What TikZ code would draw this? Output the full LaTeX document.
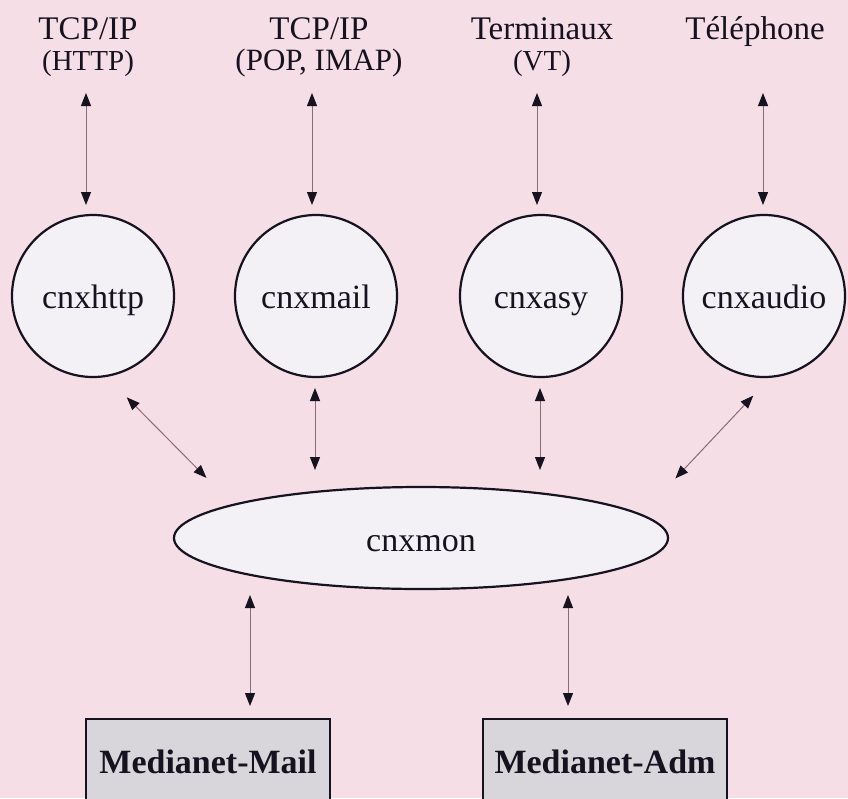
\documentclass[tikz,border=0pt]{standalone}
\usepackage{fontspec}
\setmainfont{Liberation Serif}
\usetikzlibrary{arrows.meta,shapes.geometric,calc}
\definecolor{bg}{HTML}{F5DEE6}
\definecolor{nodefill}{HTML}{F3F1F6}
\definecolor{boxfill}{HTML}{D9D6DB}
\definecolor{ink}{HTML}{16121F}
\definecolor{shaft}{HTML}{8C6A78}
\begin{document}
\begin{tikzpicture}[x=1pt,y=-1pt,
  proc/.style={circle,draw=ink,line width=2.2pt,fill=nodefill,minimum size=162pt,inner sep=0pt,outer sep=0pt,text height=24pt,text depth=0pt,text=ink,font=\fontsize{34}{40}\selectfont},
  monitor/.style={ellipse,draw=ink,line width=2.2pt,fill=nodefill,minimum width=494pt,minimum height=102pt,inner sep=0pt,outer sep=0pt,text height=26pt,text depth=0pt,text=ink,font=\fontsize{34}{40}\selectfont},
  app/.style={rectangle,draw=ink,line width=2.2pt,fill=boxfill,minimum width=244pt,inner xsep=0pt,inner ysep=30pt,outer sep=0pt,text height=24pt,text depth=60pt,text=ink,font=\bfseries\fontsize{34}{40}\selectfont},
  lab/.style={anchor=base,align=center,inner sep=0pt,text=ink,font=\fontsize{33}{31}\selectfont},
  arr/.style={draw=shaft,line width=1pt,{Triangle[length=13pt,width=10pt,color=ink]}-{Triangle[length=13pt,width=10pt,color=ink]}}
]
\useasboundingbox (0,0) rectangle (848,798);
\fill[bg] (0,0) rectangle (848,798);
\clip (0,0) rectangle (848,798);

% top labels (base = last line's baseline)
\node[lab] (lab1) at (88,70) {TCP/IP\\{\fontsize{29}{31}\selectfont (HTTP)}};
\node[lab] (lab2) at (319,70) {TCP/IP\\{\fontsize{31}{31}\selectfont (POP, IMAP)}};
\node[lab] (lab3) at (542,70) {Terminaux\\{\fontsize{29}{31}\selectfont (VT)}};
\node[lab] (lab4) at (755,39) {Téléphone};

% process circles
\node[proc] (c1) at (93,296) {cnxhttp};
\node[proc] (c2) at (316,296) {cnxmail};
\node[proc] (c3) at (541,296) {cnxasy};
\node[proc] (c4) at (764,296) {cnxaudio};

% monitor
\node[monitor] (mon) at (421,538) {cnxmon};

% applications
\node[app,anchor=base] (mail) at (208,773) {Medianet-Mail};
\node[app,anchor=base] (adm) at (605,773) {Medianet-Adm};

% label <-> circle
\draw[arr,shorten <=23pt,shorten >=10pt] ([xshift=-7pt]c1.north |- lab1.base) -- ([xshift=-7pt]c1.north);
\draw[arr,shorten <=23pt,shorten >=10pt] ([xshift=-4pt]c2.north |- lab2.base) -- ([xshift=-4pt]c2.north);
\draw[arr,shorten <=23pt,shorten >=10pt] ([xshift=-4pt]c3.north |- lab3.base) -- ([xshift=-4pt]c3.north);
\draw[arr,shorten <=54pt,shorten >=10pt] ([xshift=-1pt]c4.north |- lab4.base) -- ([xshift=-1pt]c4.north);

% circle <-> monitor
\draw[arr,shorten <=30pt,shorten >=38pt] (c1.-81.5) -- (mon.170);
\draw[arr,shorten <=11pt,shorten >=17pt] ([xshift=-1pt]c2.south) -- ([xshift=-1pt]c2.south |- mon.north);
\draw[arr,shorten <=11pt,shorten >=17pt] ([xshift=-1pt]c3.south) -- ([xshift=-1pt]c3.south |- mon.north);
\draw[arr,shorten <=26pt,shorten >=50pt] (c4.-85.7) -- (mon.6.6);

% monitor <-> applications
\draw[arr,shorten <=6pt,shorten >=13pt] ([xshift=42pt]mail.north |- mon.south) -- ([xshift=42pt]mail.north);
\draw[arr,shorten <=6pt,shorten >=13pt] ([xshift=-37pt]adm.north |- mon.south) -- ([xshift=-37pt]adm.north);
\end{tikzpicture}
\end{document}
